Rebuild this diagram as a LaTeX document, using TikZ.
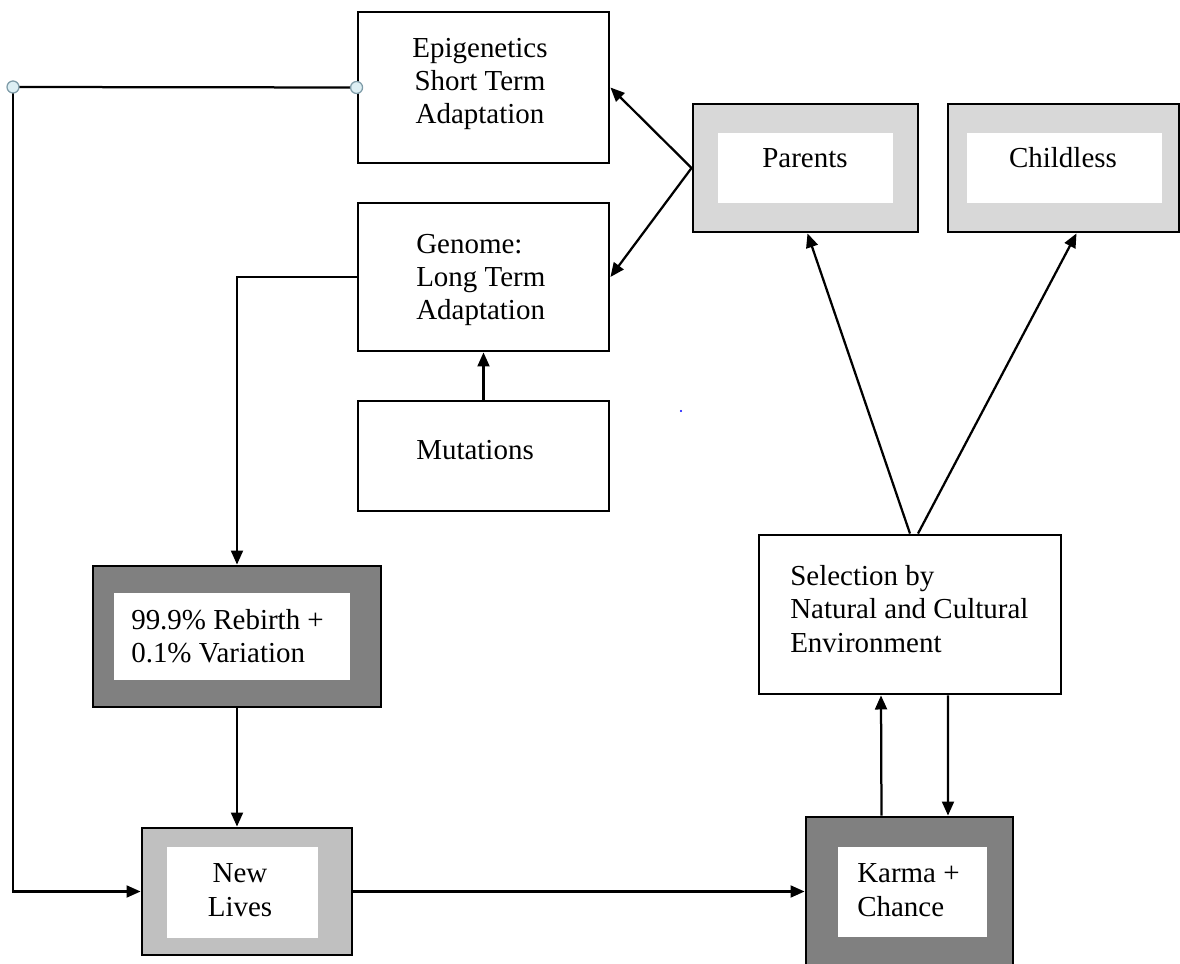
\documentclass[tikz,border=0pt]{standalone}
\usepackage{fontspec}
\setmainfont{Liberation Serif}
\usepackage{tikz}
\usetikzlibrary{arrows.meta,calc}
\definecolor{darkfill}{HTML}{808080}
\definecolor{midfill}{HTML}{C0C0C0}
\definecolor{softfill}{HTML}{D8D8D8}
\definecolor{pinfill}{HTML}{DDEFF4}
\definecolor{pinedge}{HTML}{7F9CA8}

\begin{document}
\begin{tikzpicture}[
  x=0.025cm,y=-0.025cm,
  box/.style={draw,line width=2pt,fill=white,inner sep=0pt},
  pane/.style={fill=white,inner sep=0pt},
  txt/.style={inner sep=0pt,font=\fontsize{20.6}{23.8}\selectfont},
  arr/.style={-{Triangle[length=10pt,width=8.5pt]},line width=1.6pt},
  wire/.style={line width=1.6pt},
  pin/.style={circle,draw=pinedge,fill=pinfill,line width=0.9pt,minimum size=0.3cm,inner sep=0pt}
]
\useasboundingbox (0,0) rectangle (1180,964);
\clip (0,0) rectangle (1180,964);

\node[box,minimum width=6.275cm,minimum height=3.775cm] (epi) at (483.5,87.5) {};
\node[txt,align=center] (epitxt) at (480,84) {Epigenetics\\Short Term\\Adaptation};

\node[box,minimum width=6.275cm,minimum height=3.7cm] (gen) at (483.5,277) {};
\node[txt,align=left,anchor=west] (gentxt) at (416,280) {Genome:\\Long Term\\Adaptation};

\node[box,minimum width=6.275cm,minimum height=2.75cm] (mut) at (483.5,456) {};
\node[txt,anchor=west] (muttxt) at (416,450) {Mutations};

\node[box,fill=softfill,minimum width=5.625cm,minimum height=3.2cm] (par) at (805.5,168) {};
\node[pane,minimum width=4.375cm,minimum height=1.75cm] (parpane) at (805.5,168) {};
\node[txt] (partxt) at (805,158) {Parents};

\node[box,fill=softfill,minimum width=5.775cm,minimum height=3.2cm] (child) at (1063.5,168) {};
\node[pane,minimum width=4.875cm,minimum height=1.75cm] (childpane) at (1064.5,168) {};
\node[txt] (childtxt) at (1063,158) {Childless};

\node[box,minimum width=7.55cm,minimum height=3.975cm] (sel) at (910,614.5) {};
\node[txt,align=left,anchor=west] (seltxt) at (790,609) {Selection by\\Natural and Cultural\\Environment};

\node[box,fill=darkfill,minimum width=7.2cm,minimum height=3.525cm] (reb) at (237,636.5) {};
\node[pane,minimum width=5.9cm,minimum height=2.175cm] (rebpane) at (232,636.5) {};
\node[txt,align=left,anchor=west] (rebtxt) at (131,636) {99.9\% Rebirth +\\0.1\% Variation};

\node[box,fill=midfill,minimum width=5.25cm,minimum height=3.175cm] (lives) at (247,891.5) {};
\node[pane,minimum width=3.775cm,minimum height=2.275cm] (livespane) at (242.5,892.5) {};
\node[txt,align=center] (livestxt) at (240,890) {New\\Lives};

\node[box,fill=darkfill,minimum width=5.175cm,minimum height=3.825cm] (karma) at (909.5,893.5) {};
\node[pane,minimum width=3.725cm,minimum height=2.25cm] (karmapane) at (912.5,892) {};
\node[txt,align=left,anchor=west] (karmatxt) at (857,890) {Karma +\\Chance};

\coordinate (bend) at (13,87);
\draw[wire] (epi.west) -- (bend);
\draw[arr] (bend) |- (lives.west);
\node[pin] (pinA) at (epi.west) {};
\node[pin] (pinB) at (bend) {};

\draw[arr] (par.west) -- (epi.east);
\draw[arr] (par.west) -- (gen.east);
\draw[arr] (gen.west) -| (reb.north);
\draw[arr] (mut.north) -- (gen.south);
\draw[arr] (reb.south) -- (reb.south |- lives.north);
\draw[arr] (lives.east) -- (lives.east -| karma.west);
\draw[arr] ($(karma.north)+(-28,0)$) -- ($(sel.south)+(-29,0)$);
\draw[arr] ($(sel.south)+(38,0)$) -- ($(karma.north)+(38.5,0)$);
\draw[arr] (sel.north) -- ($(par.south)+(2,0)$);
\draw[arr] ($(sel.north)+(8,0)$) -- ($(child.south)+(13,0)$);

\fill[blue] (681,411) circle (1.2);
\end{tikzpicture}
\end{document}
